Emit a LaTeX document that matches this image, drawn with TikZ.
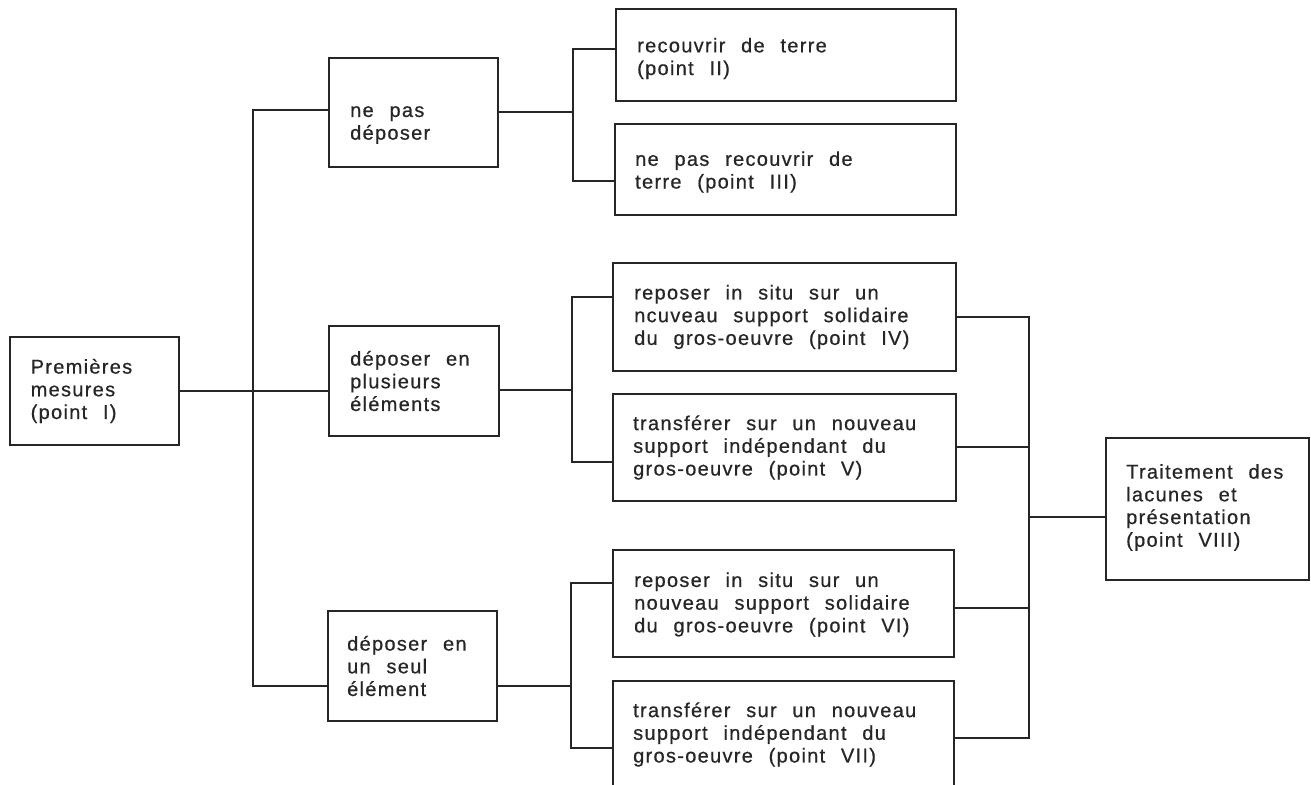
\documentclass[tikz,border=0pt]{standalone}
\usepackage{fontspec}
\newfontfamily\diafont[LetterSpace=6.5,WordSpace={2.3,0,0},FakeBold=0.6]{Liberation Sans}
\definecolor{ink}{HTML}{262626}
\begin{document}
\begin{tikzpicture}[x=1pt,y=-1pt,
  box/.style={draw=ink, line width=2pt, inner sep=0pt, rectangle},
  txt/.style={inner sep=0pt, align=left, anchor=west, text=ink,
    font=\diafont\fontsize{20}{22.7}\selectfont},
  conn/.style={draw=ink, line width=2pt}]
\useasboundingbox[fill=white] (0,0) rectangle (1311,784);
\clip (0,0) rectangle (1311,784);
% boxes
\node[box, minimum width=169pt, minimum height=108pt] (P)    at (94.5,391) {};
\node[box, minimum width=169pt, minimum height=109pt] (npd)  at (413.5,112.5) {};
\node[box, minimum width=170pt, minimum height=110pt] (plu)  at (414,381) {};
\node[box, minimum width=169pt, minimum height=110pt] (seul) at (412.5,666) {};
\node[box, minimum width=340pt, minimum height=92pt]  (II)   at (786,55) {};
\node[box, minimum width=341pt, minimum height=91pt]  (III)  at (785.5,169.5) {};
\node[box, minimum width=343pt, minimum height=108pt] (IV)   at (784.5,317) {};
\node[box, minimum width=343pt, minimum height=107pt] (V)    at (784.5,447.5) {};
\node[box, minimum width=341pt, minimum height=107pt] (VI)   at (783.5,603.5) {};
\node[box, minimum width=341pt, minimum height=107pt] (VII)  at (783.5,734.5) {};
\node[box, minimum width=203pt, minimum height=142pt] (F)    at (1207.5,509) {};
% texts
\node[txt] (Pt)    at ([xshift=21.5pt]P.west) {Premières\\mesures\\(point I)};
\node[txt] (npdt)  at ([xshift=22pt,yshift=-12.5pt]npd.west) {ne pas\\déposer};
\node[txt] (plut)  at ([xshift=22pt]plu.west) {déposer en\\plusieurs\\éléments};
\node[txt] (seult) at ([xshift=20pt]seul.west) {déposer en\\un seul\\élément};
\node[txt] (IIt)   at ([xshift=22pt,yshift=-3.5pt]II.west) {recouvrir de terre\\(point II)};
\node[txt] (IIIt)  at ([xshift=21pt,yshift=-2.5pt]III.west) {ne pas recouvrir de\\terre (point III)};
\node[txt] (IVt)   at ([xshift=22pt]IV.west) {reposer in situ sur un\\ncuveau support solidaire\\du gros-oeuvre (point IV)};
\node[txt] (Vt)    at ([xshift=21pt]V.west) {transférer sur un nouveau\\support indépendant du\\gros-oeuvre (point V)};
\node[txt] (VIt)   at ([xshift=22pt,yshift=-1pt]VI.west) {reposer in situ sur un\\nouveau support solidaire\\du gros-oeuvre (point VI)};
\node[txt] (VIIt)  at ([xshift=21pt]VII.west) {transférer sur un nouveau\\support indépendant du\\gros-oeuvre (point VII)};
\node[txt] (Ft)    at ([xshift=21pt,yshift=1.5pt]F.west) {Traitement des\\lacunes et\\présentation\\(point VIII)};
% junctions
\coordinate (jL) at (253,391);
\coordinate (jT) at (573,112);
\coordinate (jM) at (572,390);
\coordinate (jB) at (571,686);
\coordinate (jR) at (1029,517);
% connectors
\draw[conn] (P.east) -- (P.east -| plu.west);
\draw[conn] ([yshift=2.5pt]npd.west) -| (jL) |- ([yshift=-20pt]seul.west);
\draw[conn] (npd.east |- jT) -- (jT);
\draw[conn] ([yshift=6pt]II.west) -| (jT) |- ([yshift=-11.5pt]III.west);
\draw[conn] ([yshift=-9pt]plu.east) -- (jM);
\draw[conn] ([yshift=20pt]IV.west) -| (jM) |- ([yshift=-14.5pt]V.west);
\draw[conn] ([yshift=-20pt]seul.east) -- (jB);
\draw[conn] ([yshift=20.5pt]VI.west) -| (jB) |- ([yshift=-13.5pt]VII.west);
\draw[conn] (IV.east) -| (jR) |- ([yshift=-3.5pt]VII.east);
\draw[conn] ([yshift=0.5pt]V.east) -- ([yshift=0.5pt]V.east -| jR);
\draw[conn] ([yshift=-4.5pt]VI.east) -- ([yshift=-4.5pt]VI.east -| jR);
\draw[conn] (jR) -- (jR -| F.west);
\end{tikzpicture}
\end{document}
